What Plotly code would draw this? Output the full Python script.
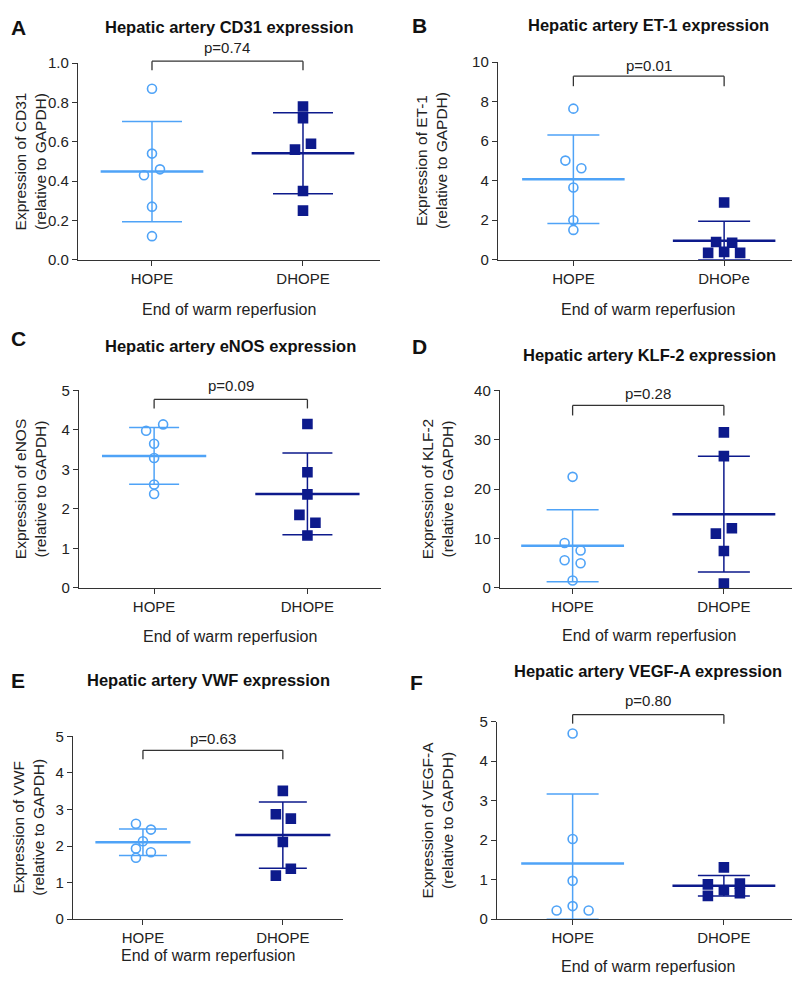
import numpy as np
import plotly.graph_objects as go

W, H = 800, 985
PAGE_OFF = 8  # the page draws the figure 8px in from the top left corner
LIGHT = "#4fa3f7"
NAVY = "#0d1a8c"
AXIS = "#333333"
FONT = "Liberation Sans, Arial, sans-serif"

# ---- data ----
letters = ["A", "B", "C", "D", "E", "F"]
titles = [
    "Hepatic artery CD31 expression",
    "Hepatic artery ET-1 expression",
    "Hepatic artery eNOS expression",
    "Hepatic artery KLF-2 expression",
    "Hepatic artery VWF expression",
    "Hepatic artery VEGF-A expression",
]
genes = ["CD31", "ET-1", "eNOS", "KLF-2", "VWF", "VEGF-A"]
group_labels = [
    ["HOPE", "DHOPE"],
    ["HOPE", "DHOPe"],
    ["HOPE", "DHOPE"],
    ["HOPE", "DHOPE"],
    ["HOPE", "DHOPE"],
    ["HOPE", "DHOPE"],
]
p_values = ["p=0.74", "p=0.01", "p=0.09", "p=0.28", "p=0.63", "p=0.80"]

cd31_hope = [0.87, 0.54, 0.46, 0.43, 0.27, 0.12]
cd31_dhope = [0.78, 0.72, 0.59, 0.56, 0.35, 0.25]
et1_hope = [7.65, 5.02, 4.63, 3.66, 2.00, 1.51]
et1_dhope = [2.90, 0.90, 0.86, 0.35, 0.40, 0.35]
enos_hope = [4.14, 3.98, 3.65, 3.29, 2.62, 2.38]
enos_dhope = [4.15, 2.93, 2.37, 1.85, 1.65, 1.33]
klf2_hope = [22.5, 9.1, 7.6, 5.6, 5.0, 1.5]
klf2_dhope = [31.5, 26.7, 12.1, 11.0, 7.5, 0.9]
vwf_hope = [2.61, 2.45, 2.13, 1.93, 1.83, 1.68]
vwf_dhope = [3.51, 2.87, 2.75, 2.11, 1.38, 1.19]
vegfa_hope = [4.70, 2.03, 0.97, 0.33, 0.22, 0.22]
vegfa_dhope = [1.31, 0.88, 0.90, 0.73, 0.59, 0.66]

hope_sets = [cd31_hope, et1_hope, enos_hope, klf2_hope, vwf_hope, vegfa_hope]
dhope_sets = [cd31_dhope, et1_dhope, enos_dhope, klf2_dhope, vwf_dhope, vegfa_dhope]

y_max = [1.0, 10, 5, 40, 5, 5]
y_ticks = [
    [0, 0.2, 0.4, 0.6, 0.8, 1.0],
    [0, 2, 4, 6, 8, 10],
    [0, 1, 2, 3, 4, 5],
    [0, 10, 20, 30, 40],
    [0, 1, 2, 3, 4, 5],
    [0, 1, 2, 3, 4, 5],
]
y_fmt = [".1f", "d", "d", "d", "d", "d"]

# ---- layout (pixels, as seen on the page) ----
# x left, x right, y top, y bottom of each plot area
boxes = [
    (78, 380, 55, 255),
    (498, 798, 54, 255),
    (79, 381, 388, 589),
    (500, 798, 388, 589),
    (73, 343, 740, 926),
    (497, 798, 725, 926),
]
x_ranges = [(-0.49, 1.51), (-0.5, 1.49), (-0.49, 1.48), (-0.48, 1.49), (-0.5, 1.43), (-0.5, 1.49)]
# horizontal spread of points, in pixels
jit_hope = [
    [0, 0, 8, -8, 0, 0],
    [0, -8, 8, 0, 0, 0],
    [9, -8, 0, 0, 0, 0],
    [0, -8, 8, -8, 8, 0],
    [-7, 8, 0, -7, 8, -7],
    [0, 0, 0, 0, -16, 16],
]
jit_dhope = [
    [0, 0, 8, -8, 0, 0],
    [0, -8, 8, -16, 0, 16],
    [0, 0, 0, -8, 8, 0],
    [0, 0, 8, -8, 0, 0],
    [0, -7, 8, 0, 8, -7],
    [0, -16, 16, 0, -16, 16],
]
cap_px = [30, 26, 25, 26, 24, 26]
title_y = [18, 16, 343, 352, 683, 673]
letter_pos = [(9, 19), (410, 17), (9, 335), (410, 343), (9, 683), (408, 685)]
ytitle_x = [30, 432, 30, 437, 29, 437]
xtitle_off = [50, 50, 49, 48, 36, 47]
# bracket top / leg end / p text centre, pixels relative to top of plot area
bracket = [(2, -7, 16), (-14, -24, -3), (-9, -18, 5), (-15, -25, -3), (-14, -23, -2), (7, -2, 21)]


def px(v):
    return (v - PAGE_OFF) / W


def py(v):
    return 1 - (v - PAGE_OFF) / H


fig = go.Figure()
annotations = []
shapes = []

for i in range(6):
    n = "" if i == 0 else str(i + 1)
    xa, ya = "x" + n, "y" + n
    x0, x1, yt, yb = boxes[i]
    r0, r1 = x_ranges[i]
    unit = (x1 - x0) / (r1 - r0)

    groups = [
        (0, hope_sets[i], jit_hope[i], LIGHT, "circle-open"),
        (1, dhope_sets[i], jit_dhope[i], NAVY, "square"),
    ]
    for gx, vals, jit, col, sym in groups:
        vals = np.array(vals)
        m = vals.mean()
        sd = vals.std(ddof=1)
        # error bar (mean +/- SD), lower arm stops at the axis
        fig.add_trace(go.Scatter(
            x=[gx], y=[m], mode="markers", xaxis=xa, yaxis=ya,
            marker=dict(size=1, color="rgba(0,0,0,0)"),
            error_y=dict(type="data", array=[sd], arrayminus=[min(sd, m)],
                         color=col, thickness=1.5, width=cap_px[i]),
            showlegend=False, hoverinfo="skip",
        ))
        # mean line
        fig.add_trace(go.Scatter(
            x=[gx - 0.34, gx + 0.34], y=[m, m], mode="lines", xaxis=xa, yaxis=ya,
            line=dict(color=col, width=2.5), showlegend=False, hoverinfo="skip",
        ))
        # points
        fig.add_trace(go.Scatter(
            x=gx + np.array(jit) / unit, y=vals, mode="markers", xaxis=xa, yaxis=ya,
            marker=dict(symbol=sym, size=9, color=col, line=dict(color=col, width=1.6)),
            cliponaxis=False, showlegend=False,
        ))

    fig.layout["xaxis" + n] = dict(
        domain=[px(x0), px(x1)], anchor=ya, range=[r0, r1],
        tickvals=[0, 1], ticktext=group_labels[i],
        showline=True, linecolor=AXIS, linewidth=1.4, ticks="outside", ticklen=5,
        tickwidth=1.4, tickcolor=AXIS, showgrid=False, zeroline=False,
        tickfont=dict(size=15, color="#222", family=FONT), fixedrange=True,
    )
    fig.layout["yaxis" + n] = dict(
        domain=[py(yb), py(yt)], anchor=xa, range=[0, y_max[i]],
        tickvals=y_ticks[i], tickformat=y_fmt[i],
        showline=True, linecolor=AXIS, linewidth=1.4, ticks="outside", ticklen=5,
        tickwidth=1.4, tickcolor=AXIS, showgrid=False, zeroline=False,
        tickfont=dict(size=15, color="#222", family=FONT), fixedrange=True,
    )

    # panel letter and title
    lx, ly = letter_pos[i]
    annotations.append(dict(
        text="<b>%s</b>" % letters[i], x=px(lx), y=py(ly), xref="paper", yref="paper",
        xanchor="left", yanchor="middle", showarrow=False,
        font=dict(size=21, color="#111", family=FONT),
    ))
    annotations.append(dict(
        text="<b>%s</b>" % titles[i], x=0.5, y=py(title_y[i]), xref=xa + " domain", yref="paper",
        xanchor="center", yanchor="middle", showarrow=False,
        font=dict(size=16.5, color="#111", family=FONT),
    ))
    # axis titles
    annotations.append(dict(
        text="Expression of %s<br>(relative to GAPDH)" % genes[i],
        x=px(ytitle_x[i]), y=0.5, xref="paper", yref=ya + " domain",
        xanchor="center", yanchor="middle", textangle=-90, showarrow=False,
        font=dict(size=15.5, color="#222", family=FONT),
    ))
    annotations.append(dict(
        text="End of warm reperfusion", x=0.5, y=0, xref=xa + " domain", yref=ya + " domain",
        xanchor="center", yanchor="middle", yshift=-xtitle_off[i], showarrow=False,
        font=dict(size=16, color="#222", family=FONT),
    ))
    # significance bracket
    btop, bleg, ptxt = bracket[i]
    annotations.append(dict(
        text=p_values[i], x=0.5, y=1, xref=xa, yref=ya + " domain",
        xanchor="center", yanchor="middle", yshift=ptxt, showarrow=False,
        font=dict(size=15, color="#222", family=FONT),
    ))
    line = dict(color="#333", width=1.3)
    shapes.append(dict(type="line", xref=xa, yref=ya + " domain", ysizemode="pixel", yanchor=1,
                       x0=0, x1=1, y0=btop, y1=btop, line=line))
    for bx in (0, 1):
        shapes.append(dict(type="line", xref=xa, yref=ya + " domain", ysizemode="pixel", yanchor=1,
                           x0=bx, x1=bx, y0=btop, y1=bleg, line=line))

fig.update_layout(
    width=W, height=H, margin=dict(l=0, r=0, t=0, b=0),
    paper_bgcolor="white", plot_bgcolor="white",
    annotations=annotations, shapes=shapes,
    font=dict(family=FONT),
)

fig.write_html("out.html")
